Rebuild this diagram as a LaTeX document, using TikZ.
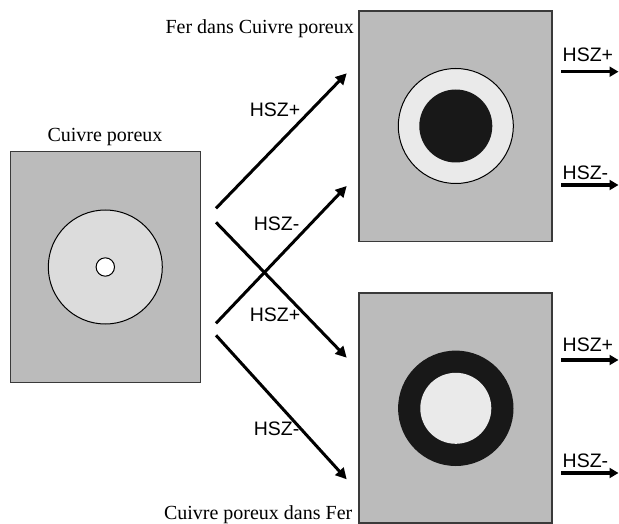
\documentclass[tikz,border=0pt]{standalone}
\usepackage{fontspec}
\setmainfont{Liberation Serif}
\newfontfamily\labelfont{Liberation Sans}
\usetikzlibrary{arrows.meta}
\definecolor{boxfill}{HTML}{BBBBBB}
\definecolor{boxedge}{HTML}{3A3A3A}
\definecolor{lightdisc}{HTML}{DCDCDC}
\definecolor{ringlight}{HTML}{EAEAEA}
\definecolor{darkdisc}{HTML}{181818}
\begin{document}
\begin{tikzpicture}[x=1pt,y=-1pt,
  box/.style={draw=boxedge, fill=boxfill, line width=1.2pt, inner sep=0pt},
  disc/.style={circle, inner sep=0pt},
  flow/.style={line width=3pt, -{Triangle[length=11pt,width=11pt]}},
  outflow/.style={line width=3.5pt, -{Triangle[length=9pt,width=10pt]}},
  lab/.style={font=\labelfont\fontsize{19.5}{20}\selectfont, inner sep=0pt, anchor=base},
  titletext/.style={font=\fontsize{20}{22}\selectfont, inner sep=0pt, anchor=base}]
\useasboundingbox (0,0) rectangle (619,524);

% boxes
\node[box, minimum width=190pt, minimum height=231pt] (L) at (105.6,267) {};
\node[box, minimum width=193pt, minimum height=230.5pt] (T) at (455.5,126.3) {};
\node[box, minimum width=193pt, minimum height=230pt] (B) at (455.5,408) {};

% discs
\node[disc, draw=black, line width=1pt, fill=lightdisc, minimum size=114pt] (Lo) at (105.3,267) {};
\node[disc, draw=black, line width=1pt, fill=white, minimum size=18.4pt] (Li) at (105.3,267) {};
\node[disc, draw=black, line width=1pt, fill=ringlight, minimum size=115pt] (To) at (455.8,126) {};
\node[disc, fill=darkdisc, minimum size=73pt] (Ti) at (455.8,126) {};
\node[disc, fill=darkdisc, minimum size=115.4pt] (Bo) at (455.8,408.3) {};
\node[disc, fill=ringlight, minimum size=71pt] (Bi) at (455.8,408.3) {};

% titles
\node[titletext] (tL) at (105,141.5) {Cuivre poreux};
\node[titletext, anchor=base east] (tT) at (354,33.3) {Fer dans Cuivre poreux};
\node[titletext, anchor=base east] (tB) at (352.5,519) {Cuivre poreux dans Fer};

% diagonal arrows
\coordinate (s1) at (216,208.3); \coordinate (e1) at (346.7,73.3);
\coordinate (s2) at (216,222.3); \coordinate (e2) at (346.7,357.7);
\coordinate (s3) at (216,323.3); \coordinate (e3) at (346.7,186);
\coordinate (s4) at (216,335.3); \coordinate (e4) at (346.7,479.3);
\draw[flow] (s1) -- (e1);
\draw[flow] (s2) -- (e2);
\draw[flow] (s3) -- (e3);
\draw[flow] (s4) -- (e4);

\node[lab] (h1) at (275,116.7) {HSZ+};
\node[lab] (h2) at (276.5,230) {HSZ-};
\node[lab] (h3) at (275,321.7) {HSZ+};
\node[lab] (h4) at (276.5,435) {HSZ-};

% outgoing arrows
\coordinate (r1s) at (561,71.7); \coordinate (r1e) at (618.5,71.7);
\coordinate (r2s) at (561,185);  \coordinate (r2e) at (618.5,185);
\coordinate (r3s) at (561,360);  \coordinate (r3e) at (618.5,360);
\coordinate (r4s) at (561,473);  \coordinate (r4e) at (618.5,473);
\draw[outflow] (r1s) -- (r1e);
\draw[outflow] (r2s) -- (r2e);
\draw[outflow] (r3s) -- (r3e);
\draw[outflow] (r4s) -- (r4e);

\node[lab, anchor=base west] (o1) at (562.5,62) {HSZ+};
\node[lab, anchor=base west] (o2) at (562.5,179.5) {HSZ-};
\node[lab, anchor=base west] (o3) at (562.5,351.5) {HSZ+};
\node[lab, anchor=base west] (o4) at (562.5,467.5) {HSZ-};
\end{tikzpicture}
\end{document}
